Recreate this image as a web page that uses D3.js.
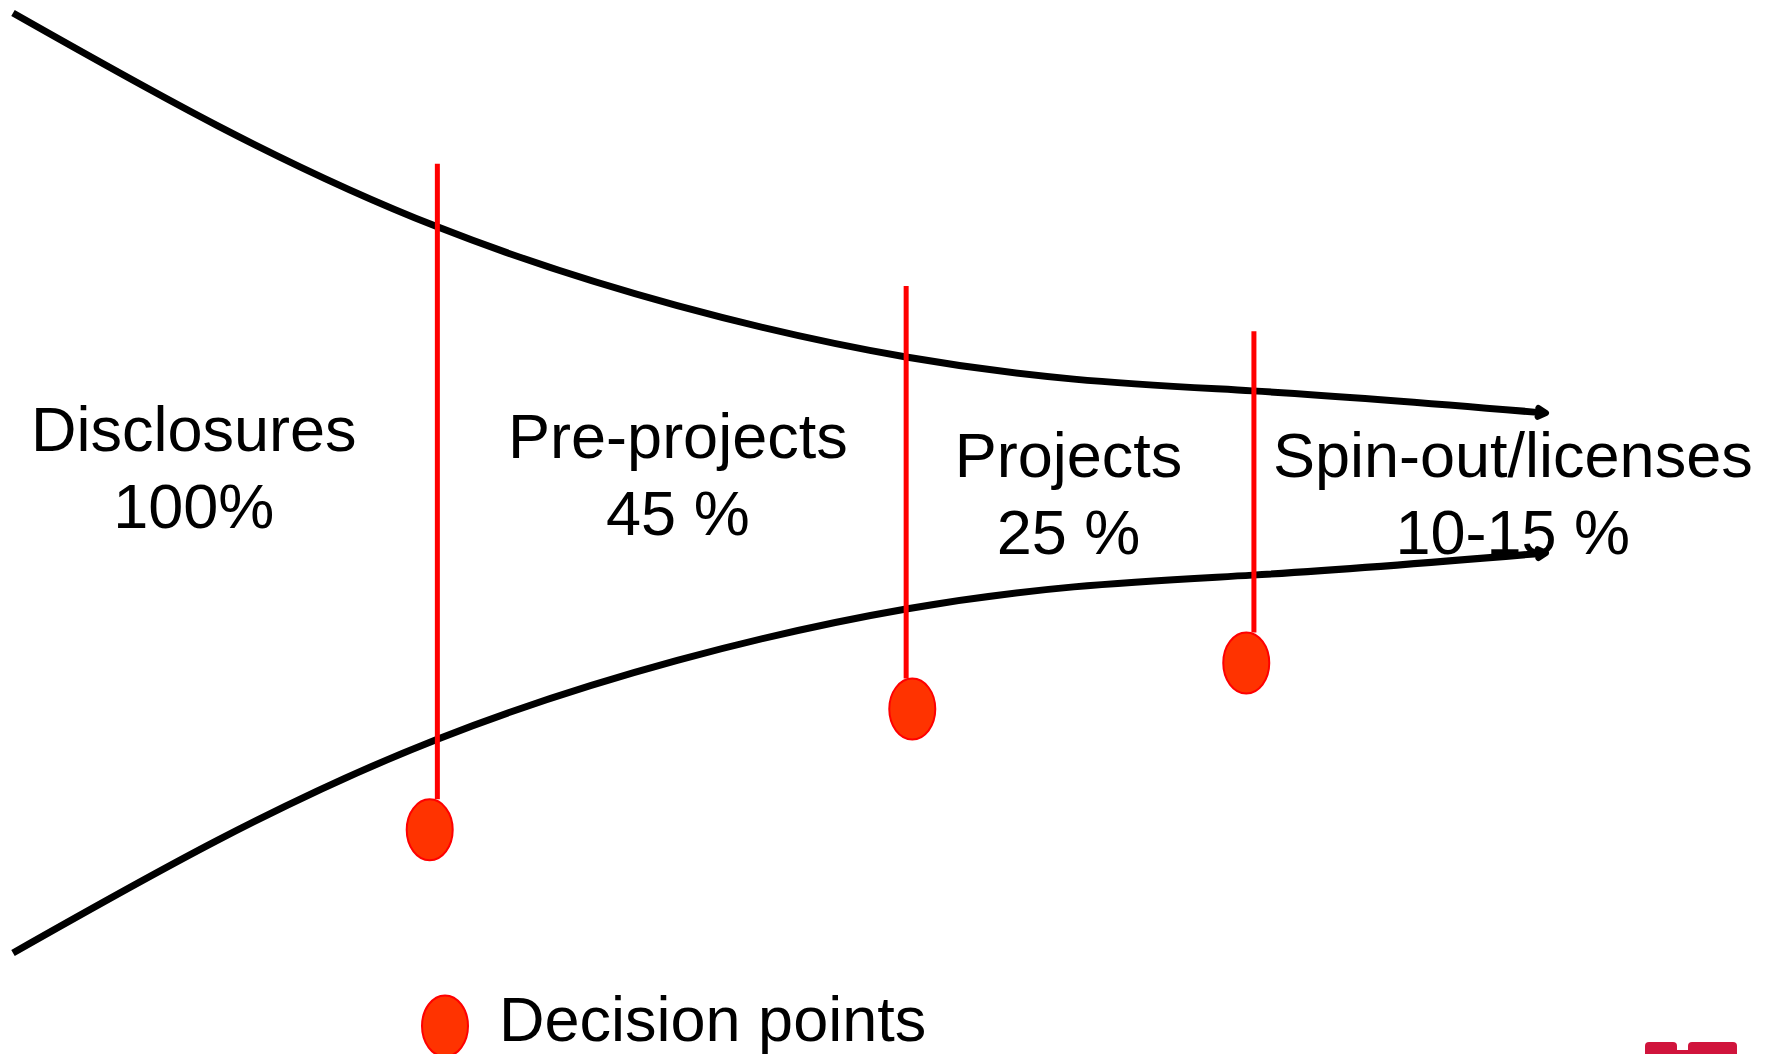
<!DOCTYPE html>
<html>
<head>
<meta charset="utf-8">
<script src="https://cdn.jsdelivr.net/npm/d3@7"></script>
<style>
  html, body { margin: 0; padding: 0; background: #fff; }
  svg { display: block; }
</style>
</head>
<body>
<div id="chart"></div>
<script>
// funnel outline: position along the process (0-100) and
// half opening as percent of the starting opening
var funnelPos  = [0, 27.7, 58.3, 80.9, 100];
var funnelOpen = [100, 54.5, 26.8, 19.6, 14.9];

// stages
var stageNames  = ["Disclosures", "Pre-projects", "Projects", "Spin-out/licenses"];
var stageShares = ["100%", "45 %", "25 %", "10-15 %"];
var stagePos    = [11.8, 43.4, 68.9, 97.9];
var stageLevel  = [6.8, 5.3, 1.3, 1.3];

// decision points (gates)
var gatePos    = [27.7, 58.3, 81.0];
var gateTop    = [67.9, 41.9, 32.3];
var gateDotPos = [27.2, 58.7, 80.5];
var gateDotLvl = [-73.8, -48.1, -38.3];

var legendLabel = "Decision points";

var WIDTH = 1778, HEIGHT = 1054;
var FONT = "'Liberation Sans', Arial, Helvetica, sans-serif";
var DOT_RX = 23, DOT_RY = 30.5;

var svg = d3.select("#chart").append("svg")
    .attr("width", WIDTH)
    .attr("height", HEIGHT);

var x = d3.scaleLinear().domain([0, 100]).range([13, 1545]);
var y = d3.scaleLinear().domain([-100, 100]).range([953, 13]);

// arrow head
svg.append("defs").append("marker")
    .attr("id", "arrow")
    .attr("viewBox", "-14 -10 20 20")
    .attr("markerUnits", "userSpaceOnUse")
    .attr("markerWidth", 20)
    .attr("markerHeight", 20)
    .attr("refX", 0)
    .attr("refY", 0)
    .attr("orient", "auto")
  .append("path")
    .attr("d", "M-7,-4.5 L1,0 L-7,4.5")
    .attr("fill", "none")
    .attr("stroke", "#000")
    .attr("stroke-width", 6)
    .attr("stroke-linecap", "round")
    .attr("stroke-linejoin", "round");

var pts = funnelPos.map(function(p, i) { return [p, funnelOpen[i]]; });

var upper = d3.line()
    .x(function(d) { return x(d[0]); })
    .y(function(d) { return y(d[1]); })
    .curve(d3.curveNatural);
var lower = d3.line()
    .x(function(d) { return x(d[0]); })
    .y(function(d) { return y(-d[1]); })
    .curve(d3.curveNatural);

[upper, lower].forEach(function(gen) {
    svg.append("path")
        .attr("d", gen(pts))
        .attr("fill", "none")
        .attr("stroke", "#000")
        .attr("stroke-width", 7)
        .attr("marker-end", "url(#arrow)");
});

// gate lines and dots
gatePos.forEach(function(p, i) {
    var dotY = y(gateDotLvl[i]);
    svg.append("line")
        .attr("x1", x(p)).attr("x2", x(p))
        .attr("y1", y(gateTop[i]))
        .attr("y2", dotY - DOT_RY)
        .attr("stroke", "#ff0000")
        .attr("stroke-width", 5);
    svg.append("ellipse")
        .attr("cx", x(gateDotPos[i]))
        .attr("cy", dotY)
        .attr("rx", DOT_RX)
        .attr("ry", DOT_RY)
        .attr("fill", "#ff3300")
        .attr("stroke", "#ff0000")
        .attr("stroke-width", 2);
});

// stage labels
stageNames.forEach(function(name, i) {
    var t = svg.append("text")
        .attr("x", x(stagePos[i]))
        .attr("y", y(stageLevel[i]))
        .attr("text-anchor", "middle")
        .attr("font-family", FONT)
        .attr("font-size", 63)
        .attr("fill", "#000");
    t.append("tspan").attr("x", x(stagePos[i])).text(name);
    t.append("tspan").attr("x", x(stagePos[i])).attr("dy", 77).text(stageShares[i]);
});

// legend
svg.append("ellipse")
    .attr("cx", 445).attr("cy", 1026)
    .attr("rx", DOT_RX).attr("ry", DOT_RY)
    .attr("fill", "#ff3300")
    .attr("stroke", "#ff0000")
    .attr("stroke-width", 2);
svg.append("text")
    .attr("x", 499).attr("y", 1041)
    .attr("font-family", FONT)
    .attr("font-size", 63)
    .attr("fill", "#000")
    .text(legendLabel);

// logo fragment in the corner
var logo = svg.append("g").attr("fill", "#d0143c");
logo.append("rect").attr("x", 1645).attr("y", 1042).attr("width", 32).attr("height", 30).attr("rx", 4);
logo.append("rect").attr("x", 1688).attr("y", 1042).attr("width", 49).attr("height", 30).attr("rx", 4);
logo.append("rect").attr("x", 1670).attr("y", 1050).attr("width", 24).attr("height", 20);
</script>
</body>
</html>
